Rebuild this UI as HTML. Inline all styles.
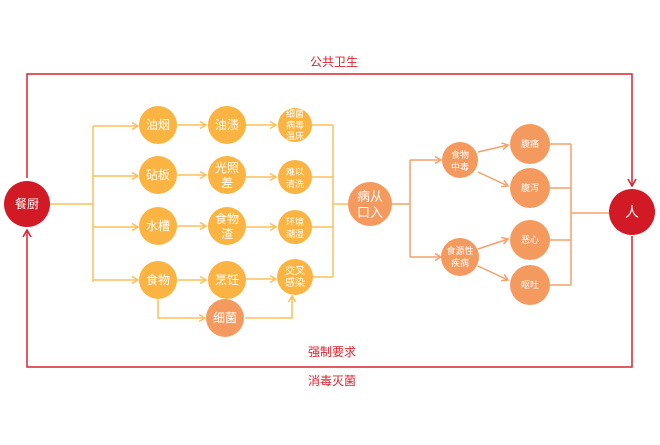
<!DOCTYPE html>
<html><head><meta charset="utf-8"><style>
body{margin:0;background:#fff;}
svg text{font-family:"Liberation Sans","Noto Sans CJK SC",sans-serif;fill:#fff;text-anchor:middle;}
</style></head><body>
<svg width="660" height="440" viewBox="0 0 660 440" xmlns="http://www.w3.org/2000/svg">
<defs>
<marker id="ao" markerWidth="8" markerHeight="8" refX="7" refY="4" orient="auto" markerUnits="userSpaceOnUse"><path d="M1,0.5 L7,4 L1,7.5" fill="none" stroke="#fbbf5a" stroke-width="1.5"/></marker>
<marker id="as" markerWidth="8" markerHeight="8" refX="7" refY="4" orient="auto" markerUnits="userSpaceOnUse"><path d="M1,0.5 L7,4 L1,7.5" fill="none" stroke="#f5a06a" stroke-width="1.5"/></marker>
<marker id="ar" markerWidth="10" markerHeight="10" refX="8" refY="5" orient="auto" markerUnits="userSpaceOnUse"><path d="M1,1 L8,5 L1,9" fill="none" stroke="#d9232e" stroke-width="1.5"/></marker>
</defs>
<g fill="none" stroke="#d9232e" stroke-width="1.5">
<path d="M27,178 V74 H632 V186" marker-end="url(#ar)"/>
<path d="M632,236 V367 H27 V230" marker-end="url(#ar)"/>
</g>
<text x="334" y="66" font-size="12" style="fill:#d9232e">公共卫生</text>
<text x="332" y="356" font-size="12" style="fill:#d9232e">强制要求</text>
<text x="332" y="385" font-size="12" style="fill:#d9232e">消毒灭菌</text>
<g fill="none" stroke="#fbbf5a" stroke-width="1.5">
<path d="M50,204 H93 M93,126 V282"/>
<path d="M93,126 H138" marker-end="url(#ao)"/>
<path d="M93,176 H138" marker-end="url(#ao)"/>
<path d="M93,227 H138" marker-end="url(#ao)"/>
<path d="M93,280 H138" marker-end="url(#ao)"/>
<path d="M178,125 H206" marker-end="url(#ao)"/>
<path d="M178,175 H206" marker-end="url(#ao)"/>
<path d="M178,226 H206" marker-end="url(#ao)"/>
<path d="M178,280 H206" marker-end="url(#ao)"/>
<path d="M246,125 H276" marker-end="url(#ao)"/>
<path d="M246,177 H276" marker-end="url(#ao)"/>
<path d="M246,227 H276" marker-end="url(#ao)"/>
<path d="M246,279 H276" marker-end="url(#ao)"/>
<path d="M158,299 V318 H205" marker-end="url(#ao)"/>
<path d="M245,318 H292 V296" marker-end="url(#ao)"/>
<path d="M312,125 H333 M312,177 H333 M312,227 H333 M312,277 H333 M333,125 V277 M333,204 H348"/>
</g>
<g fill="none" stroke="#f5a06a" stroke-width="1.5">
<path d="M392,204 H410 M410,160 V257"/>
<path d="M410,160 H441" marker-end="url(#as)"/>
<path d="M410,257 H441" marker-end="url(#as)"/>
<path d="M478,152 L508,145" marker-end="url(#as)"/>
<path d="M478,172 L508,186" marker-end="url(#as)"/>
<path d="M478,249 L508,239" marker-end="url(#as)"/>
<path d="M478,266 L508,280" marker-end="url(#as)"/>
<path d="M550,144 H571 M550,188 H571 M550,240 H571 M550,285 H571 M571,144 V285 M571,213 H610"/>
</g>
<g fill="#fbb441">
<circle cx="158" cy="125" r="19"/><circle cx="227" cy="125" r="19"/><circle cx="295" cy="125" r="17"/>
<circle cx="158" cy="175" r="19"/><circle cx="227" cy="175" r="19"/><circle cx="295" cy="177" r="17"/>
<circle cx="158" cy="226" r="19"/><circle cx="227" cy="226" r="19"/><circle cx="295" cy="227" r="17"/>
<circle cx="158" cy="280" r="19"/><circle cx="227" cy="280" r="19"/><circle cx="295" cy="277" r="18"/>
</g>
<circle cx="225" cy="318" r="19" fill="#f59a5f"/>
<g fill="#f59a5f">
<circle cx="370" cy="204" r="22"/>
<circle cx="460" cy="160" r="18"/><circle cx="460" cy="257" r="19"/>
<circle cx="530" cy="144" r="20"/><circle cx="530" cy="188" r="20"/>
<circle cx="530" cy="240" r="20"/><circle cx="530" cy="285" r="20"/>
</g>
<circle cx="27" cy="204" r="23" fill="#d11a26"/>
<circle cx="632" cy="212" r="23" fill="#d11a26"/>
<g font-size="12">
<text x="27" y="208">餐厨</text>
<text x="632" y="217" font-size="14">人</text>
<text x="158" y="129">油烟</text><text x="227" y="129">油渍</text>
<text x="158" y="179">砧板</text><text x="227" y="172">光照</text><text x="227" y="187">差</text>
<text x="158" y="230">水槽</text><text x="227" y="223">食物</text><text x="227" y="238">渣</text>
<text x="158" y="284">食物</text><text x="227" y="284">烹饪</text>
<text x="225" y="322">细菌</text>
<text x="370" y="201" font-size="13">病从</text><text x="370" y="217" font-size="13">口入</text>
</g>
<g font-size="9">
<text x="295" y="117">细菌</text><text x="295" y="128">病毒</text><text x="295" y="139">温床</text>
<text x="295" y="175">难以</text><text x="295" y="187">清洗</text>
<text x="295" y="225">环境</text><text x="295" y="237">潮湿</text>
<text x="295" y="274" font-size="10">交叉</text><text x="295" y="286" font-size="10">感染</text>
<text x="460" y="158">食物</text><text x="460" y="170">中毒</text>
<text x="460" y="254">食源性</text><text x="460" y="266">疾病</text>
<text x="530" y="147">腹痛</text><text x="530" y="191">腹泻</text>
<text x="530" y="243">恶心</text><text x="530" y="288">呕吐</text>
</g>
</svg>
</body></html>
